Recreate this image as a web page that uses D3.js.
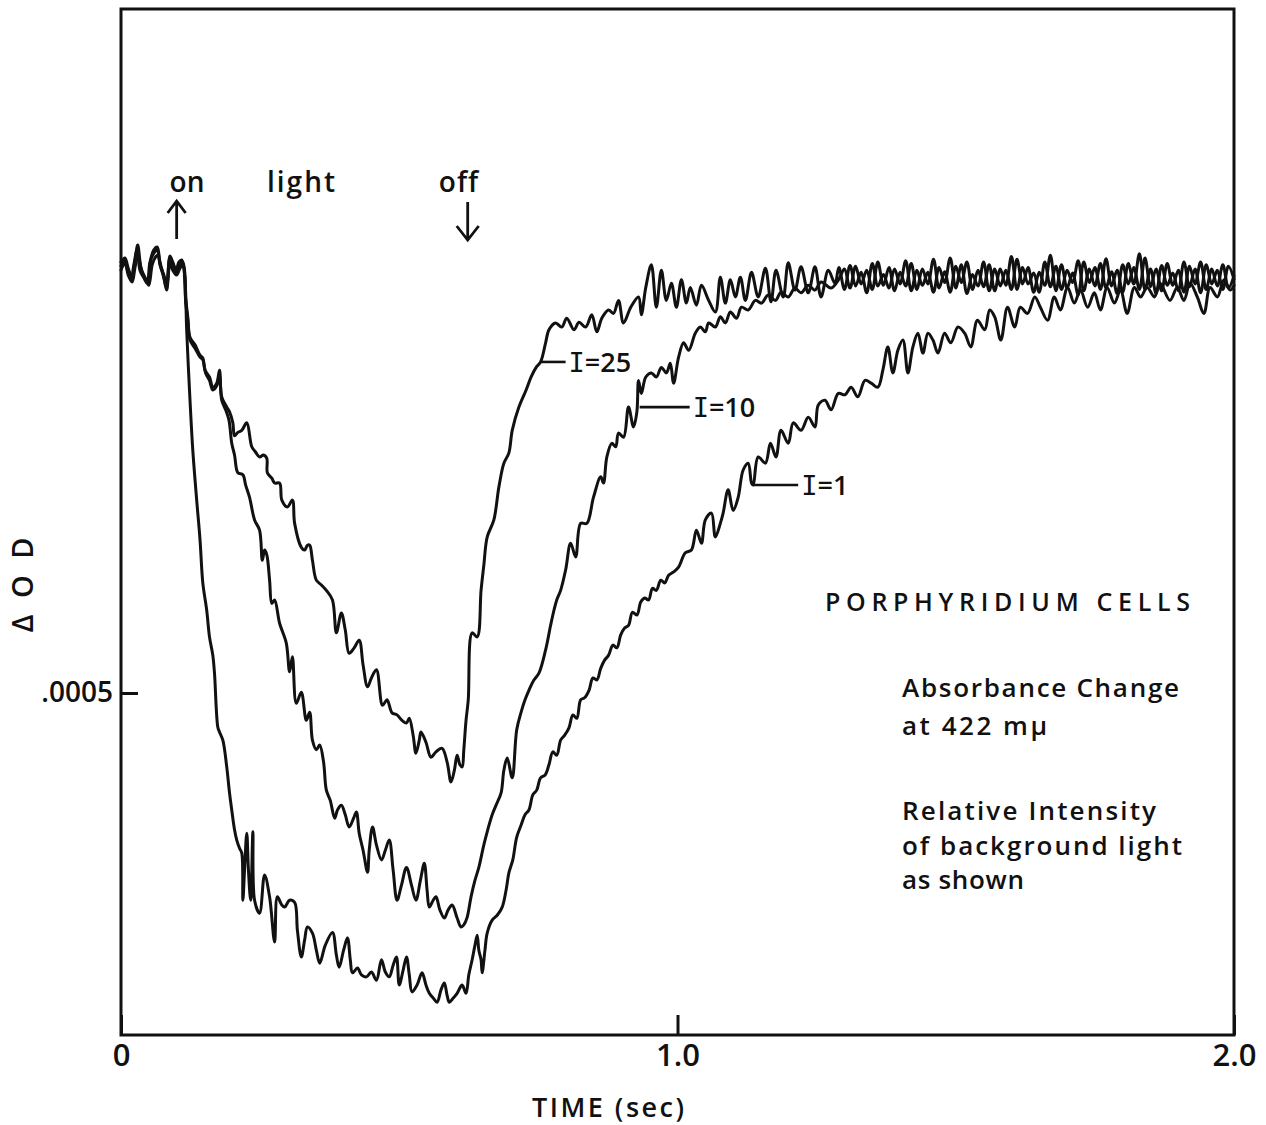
<!DOCTYPE html>
<html><head><meta charset="utf-8">
<script src="https://cdn.jsdelivr.net/npm/d3@7/dist/d3.min.js"></script>
<style>body{margin:0;background:#fff}svg{display:block}text{font-variant-ligatures:none}</style>
</head><body>
<svg id="chart" width="1266" height="1125"></svg>
<script>
// ---------- data ----------
const timeDomain = [0, 2.0];            // seconds
const odDomain = [0, 0.0015];           // ΔOD
const xTicks = [0, 1.0, 2.0];
const xTickLabels = ["0", "1.0", "2.0"];
const yTicks = [0.0005];
const yTickLabels = [".0005"];
const seriesNames = ["I=25", "I=10", "I=1"];
const lightOnTime = 0.10, lightOffTime = 0.623;
// label anchor points on each trace [time, ΔOD×1e-4]
const labelAnchors = [[0.754, 9.84], [0.932, 9.18], [1.136, 8.04]];
const infoTitle = "PORPHYRIDIUM  CELLS";
const infoLines1 = ["Absorbance Change", "at 422 mμ"];
const infoLines2 = ["Relative Intensity", "of background light", "as shown"];

// traces: [time (s), ΔOD × 1e-4]
const traceI25 = [[0,11.30],[0.007,11.36],[0.013,11.21],[0.020,11.07],[0.025,11.30],[0.030,11.55],[0.036,11.21],[0.041,11.11],[0.048,11.02],[0.054,11.36],[0.059,11.48],[0.065,11.52],[0.070,11.30],[0.075,11.15],[0.082,10.93],[0.088,11.39],[0.093,11.30],[0.099,11.18],[0.104,11.30],[0.109,11.33],[0.113,11.21],[0.116,10.79],[0.120,10.50],[0.124,10.20],[0.133,10.09],[0.142,9.94],[0.147,9.90],[0.151,9.72],[0.159,9.62],[0.165,9.47],[0.172,9.53],[0.177,9.72],[0.181,9.33],[0.190,9.18],[0.195,9.11],[0.201,8.95],[0.204,8.76],[0.210,8.81],[0.217,8.84],[0.226,8.95],[0.235,8.60],[0.242,8.52],[0.249,8.45],[0.256,8.48],[0.262,8.43],[0.263,8.22],[0.271,8.14],[0.276,8.07],[0.285,8.07],[0.289,7.82],[0.299,7.72],[0.308,7.82],[0.312,7.48],[0.324,7.13],[0.330,7.09],[0.335,7.16],[0.339,7.16],[0.344,6.94],[0.351,6.65],[0.360,6.58],[0.369,6.50],[0.380,6.36],[0.387,5.88],[0.396,6.17],[0.403,5.92],[0.410,5.58],[0.419,5.66],[0.428,5.77],[0.435,5.41],[0.443,5.09],[0.450,5.22],[0.459,5.34],[0.470,4.82],[0.478,4.90],[0.487,4.71],[0.496,4.68],[0.505,4.60],[0.513,4.56],[0.518,4.63],[0.525,4.38],[0.530,4.12],[0.536,4.31],[0.539,4.43],[0.548,4.28],[0.557,4.06],[0.566,4.14],[0.577,4.19],[0.586,3.99],[0.593,3.70],[0.599,3.87],[0.604,4.09],[0.609,3.95],[0.613,3.92],[0.616,4.17],[0.620,4.60],[0.624,4.90],[0.631,5.88],[0.640,5.82],[0.647,6.50],[0.652,6.87],[0.658,7.28],[0.670,7.53],[0.679,8.01],[0.688,8.36],[0.697,8.51],[0.703,8.84],[0.715,9.18],[0.728,9.43],[0.737,9.62],[0.746,9.76],[0.754,9.84],[0.763,10.12],[0.769,10.31],[0.781,10.41],[0.792,10.35],[0.801,10.48],[0.814,10.31],[0.823,10.42],[0.835,10.35],[0.846,10.53],[0.855,10.28],[0.864,10.48],[0.876,10.60],[0.885,10.55],[0.894,10.74],[0.903,10.41],[0.916,10.64],[0.930,10.79],[0.935,10.53],[0.943,10.93],[0.953,11.26],[0.962,10.64],[0.971,11.18],[0.980,10.74],[0.989,10.99],[0.998,10.64],[1.007,11.04],[1.016,10.70],[1.023,10.93],[1.034,10.67],[1.043,10.96],[1.056,10.74],[1.068,10.57],[1.077,11.08],[1.086,10.70],[1.095,11.04],[1.104,10.79],[1.113,11.08],[1.122,10.74],[1.133,11.15],[1.145,10.79],[1.158,11.21],[1.168,10.72],[1.177,11.18],[1.190,10.79],[1.199,11.29],[1.211,10.89],[1.222,11.23],[1.235,10.85],[1.247,11.23],[1.258,10.79],[1.271,11.18],[1.283,10.99],
[1.29,11.22],[1.30,10.90],[1.31,11.25],[1.32,10.95],[1.33,11.15],[1.34,10.85],[1.35,11.28],[1.36,10.95],[1.37,11.12],[1.38,10.92],[1.39,11.20],[1.40,10.98],[1.41,11.32],[1.42,10.88],[1.43,11.18],[1.44,10.96],[1.45,11.15],[1.46,10.86],[1.47,11.22],[1.48,11.00],[1.49,11.36],[1.50,10.92],[1.51,11.26],[1.52,10.84],[1.53,11.12],[1.54,10.95],[1.55,11.30],[1.56,10.88],[1.57,11.20],[1.58,10.95],[1.59,11.18],[1.60,10.90],[1.61,11.34],[1.62,10.98],[1.63,11.22],[1.64,10.86],[1.65,11.15],[1.66,10.96],[1.67,11.40],[1.68,10.88],[1.69,11.26],[1.70,10.92],[1.71,11.14],[1.72,10.82],[1.73,11.30],[1.74,11.00],[1.75,11.22],[1.76,10.90],[1.77,11.35],[1.78,10.95],[1.79,11.18],[1.80,10.86],[1.81,11.28],[1.82,10.98],[1.83,11.42],[1.84,10.90],[1.85,11.20],[1.86,10.84],[1.87,11.25],[1.88,10.96],[1.89,11.14],[1.90,10.88],[1.91,11.30],[1.92,10.94],[1.93,11.20],[1.94,10.85],[1.95,11.26],[1.96,10.98],[1.97,11.18],[1.98,10.90],[1.99,11.24],[2.00,11.05]];

const traceI10 = [[0,11.24],[0.005,11.33],[0.013,11.15],[0.018,11.04],[0.023,11.26],[0.029,11.48],[0.034,11.18],[0.041,11.07],[0.047,10.99],[0.052,11.30],[0.057,11.40],[0.065,11.48],[0.070,11.26],[0.077,11.11],[0.082,10.96],[0.088,11.36],[0.095,11.24],[0.100,11.15],[0.106,11.26],[0.111,11.30],[0.115,11.11],[0.116,10.74],[0.120,10.45],[0.124,10.16],[0.133,10.04],[0.142,9.91],[0.147,9.87],[0.152,9.68],[0.159,9.57],[0.165,9.43],[0.172,9.49],[0.177,9.65],[0.181,9.28],[0.188,9.14],[0.194,8.99],[0.199,8.65],[0.204,8.48],[0.210,8.22],[0.219,8.19],[0.224,8.04],[0.231,7.86],[0.240,7.53],[0.249,7.38],[0.254,6.94],[0.258,7.09],[0.262,7.02],[0.267,6.65],[0.271,6.31],[0.276,6.36],[0.285,6.02],[0.297,5.73],[0.303,5.31],[0.308,5.53],[0.315,4.85],[0.324,5.01],[0.333,4.60],[0.339,4.72],[0.344,4.31],[0.351,4.17],[0.357,4.24],[0.364,3.99],[0.369,3.58],[0.376,3.43],[0.384,3.17],[0.389,3.29],[0.396,3.36],[0.403,3.22],[0.410,3.04],[0.418,3.17],[0.423,3.26],[0.428,2.95],[0.435,2.70],[0.443,2.38],[0.446,2.70],[0.452,3.04],[0.459,2.78],[0.468,2.56],[0.475,2.70],[0.482,2.85],[0.489,2.41],[0.496,1.97],[0.504,2.19],[0.513,2.45],[0.522,2.19],[0.530,1.97],[0.538,2.26],[0.545,2.51],[0.550,2.12],[0.554,1.87],[0.561,1.97],[0.566,2.02],[0.573,1.83],[0.581,1.71],[0.588,1.83],[0.595,1.90],[0.604,1.71],[0.611,1.58],[0.616,1.61],[0.622,1.72],[0.629,2.02],[0.636,2.26],[0.643,2.45],[0.652,2.78],[0.659,3.00],[0.667,3.22],[0.674,3.36],[0.683,3.54],[0.688,3.87],[0.694,4.05],[0.703,3.76],[0.711,4.46],[0.719,4.72],[0.726,4.90],[0.733,5.04],[0.742,5.19],[0.751,5.29],[0.763,5.63],[0.772,5.99],[0.778,6.21],[0.783,6.36],[0.790,6.50],[0.799,6.80],[0.808,7.19],[0.817,6.99],[0.826,7.48],[0.837,7.48],[0.849,7.86],[0.862,8.16],[0.867,8.07],[0.873,8.45],[0.882,8.65],[0.889,8.60],[0.894,8.80],[0.903,8.74],[0.912,9.18],[0.921,8.89],[0.927,9.11],[0.930,9.57],[0.935,9.38],[0.943,9.62],[0.953,9.68],[0.962,9.62],[0.971,9.76],[0.980,9.68],[0.987,9.82],[0.993,9.53],[1.002,9.91],[1.011,10.12],[1.020,10.01],[1.032,10.26],[1.041,10.35],[1.050,10.28],[1.056,10.41],[1.068,10.35],[1.077,10.50],[1.086,10.41],[1.095,10.57],[1.106,10.48],[1.115,10.64],[1.127,10.60],[1.140,10.74],[1.151,10.70],[1.163,10.82],[1.176,10.74],[1.186,10.86],[1.199,10.79],[1.211,10.92],[1.222,10.85],[1.235,10.96],[1.247,10.89],[1.258,11.01],[1.276,10.92],
[1.29,11.05],[1.30,11.20],[1.31,10.92],[1.32,11.24],[1.33,10.98],[1.34,11.18],[1.35,10.90],[1.36,11.30],[1.37,10.96],[1.38,11.22],[1.39,10.88],[1.40,11.15],[1.41,10.95],[1.42,11.28],[1.43,10.90],[1.44,11.20],[1.45,10.98],[1.46,11.34],[1.47,10.92],[1.48,11.16],[1.49,10.86],[1.50,11.24],[1.51,11.00],[1.52,11.30],[1.53,10.90],[1.54,11.18],[1.55,10.94],[1.56,11.26],[1.57,10.88],[1.58,11.20],[1.59,10.96],[1.60,11.38],[1.61,10.90],[1.62,11.22],[1.63,10.98],[1.64,11.14],[1.65,10.86],[1.66,11.30],[1.67,10.94],[1.68,11.24],[1.69,10.90],[1.70,11.18],[1.71,11.00],[1.72,11.32],[1.73,10.88],[1.74,11.20],[1.75,10.95],[1.76,11.28],[1.77,10.92],[1.78,11.16],[1.79,10.84],[1.80,11.26],[1.81,10.98],[1.82,11.22],[1.83,10.90],[1.84,11.36],[1.85,10.94],[1.86,11.20],[1.87,10.88],[1.88,11.28],[1.89,10.96],[1.90,11.18],[1.91,10.86],[1.92,11.24],[1.93,10.98],[1.94,11.30],[1.95,10.90],[1.96,11.20],[1.97,10.95],[1.98,11.26],[1.99,10.92],[2.00,11.10]];

const traceI1 = [[0,11.18],[0.007,11.29],[0.013,11.11],[0.020,11.01],[0.025,11.21],[0.030,11.40],[0.038,11.15],[0.045,11.04],[0.050,10.96],[0.056,11.26],[0.061,11.36],[0.066,11.40],[0.072,11.21],[0.077,11.07],[0.082,10.89],[0.088,11.30],[0.093,11.18],[0.100,11.11],[0.106,11.21],[0.111,11.26],[0.115,11.04],[0.118,10.31],[0.124,9.28],[0.129,8.55],[0.136,7.82],[0.142,7.24],[0.147,6.61],[0.154,6.21],[0.159,5.82],[0.165,5.55],[0.168,5.29],[0.174,4.50],[0.177,4.43],[0.183,4.31],[0.190,3.92],[0.195,3.54],[0.199,3.29],[0.204,3.00],[0.208,2.85],[0.213,2.73],[0.217,2.66],[0.219,1.97],[0.222,2.41],[0.226,2.95],[0.229,2.41],[0.233,1.97],[0.237,2.97],[0.240,1.97],[0.249,1.78],[0.258,2.34],[0.267,2.02],[0.276,1.36],[0.281,2.02],[0.289,1.90],[0.294,1.87],[0.303,1.97],[0.312,1.94],[0.317,1.53],[0.324,1.14],[0.330,1.39],[0.335,1.58],[0.344,1.49],[0.351,1.24],[0.357,1.05],[0.367,1.31],[0.380,1.50],[0.387,1.17],[0.392,0.99],[0.400,1.24],[0.407,1.42],[0.412,1.10],[0.416,0.91],[0.425,0.98],[0.432,0.88],[0.441,0.85],[0.450,0.92],[0.459,0.80],[0.468,1.10],[0.475,0.92],[0.482,0.85],[0.489,1.02],[0.495,1.14],[0.500,0.73],[0.507,0.95],[0.513,1.14],[0.518,0.88],[0.523,0.63],[0.532,0.73],[0.541,0.91],[0.548,0.73],[0.554,0.61],[0.561,0.54],[0.568,0.48],[0.575,0.66],[0.581,0.76],[0.586,0.58],[0.590,0.48],[0.597,0.54],[0.604,0.61],[0.613,0.73],[0.620,0.61],[0.625,0.88],[0.631,1.10],[0.636,1.31],[0.640,1.46],[0.643,1.24],[0.647,1.10],[0.649,0.91],[0.654,1.24],[0.658,1.49],[0.667,1.68],[0.676,1.75],[0.685,1.87],[0.692,2.12],[0.697,2.37],[0.704,2.56],[0.711,2.89],[0.719,3.07],[0.726,3.22],[0.733,3.29],[0.740,3.51],[0.747,3.58],[0.754,3.76],[0.762,3.80],[0.769,3.95],[0.776,4.14],[0.783,4.09],[0.790,4.31],[0.797,4.38],[0.805,4.49],[0.812,4.68],[0.819,4.63],[0.826,4.90],[0.833,4.93],[0.841,5.04],[0.848,5.22],[0.855,5.19],[0.862,5.36],[0.869,5.48],[0.876,5.55],[0.884,5.70],[0.891,5.66],[0.898,5.85],[0.905,5.95],[0.912,5.99],[0.919,6.18],[0.927,6.14],[0.934,6.33],[0.941,6.39],[0.948,6.36],[0.955,6.53],[0.962,6.50],[0.970,6.65],[0.977,6.61],[0.984,6.72],[0.993,6.77],[1.002,6.84],[1.014,7.05],[1.025,7.09],[1.034,7.38],[1.043,7.19],[1.050,7.53],[1.061,7.63],[1.068,7.28],[1.077,7.48],[1.082,7.63],[1.091,7.97],[1.100,7.67],[1.109,7.86],[1.118,8.26],[1.127,8.36],[1.133,8.07],[1.136,8.04],[1.145,8.45],[1.158,8.36],[1.167,8.65],[1.177,8.45],[1.186,8.84],[1.199,8.65],[1.208,8.95],[1.222,8.84],[1.235,9.03],[1.247,8.89],[1.253,9.21],[1.265,9.28],[1.276,9.14],[1.289,9.38],[1.301,9.36],[1.312,9.47],[1.324,9.33],[1.337,9.57],[1.348,9.53],[1.360,9.47],[1.369,9.72],[1.378,10.06],[1.387,9.68],[1.396,10.01],[1.405,10.16],[1.414,9.68],[1.423,10.06],[1.432,10.26],[1.441,9.97],[1.450,10.26],[1.459,10.16],[1.468,9.97],[1.480,10.26],[1.491,10.12],[1.504,10.35],[1.516,10.26],[1.527,10.06],[1.539,10.45],[1.552,10.31],[1.561,10.60],[1.570,10.50],[1.581,10.16],[1.593,10.64],[1.606,10.35],[1.616,10.64],[1.629,10.55],[1.642,10.79],[1.652,10.64],[1.665,10.45],[1.677,10.79],[1.688,10.60],[1.701,10.93],[1.713,10.70],[1.724,10.89],[1.737,10.64],[1.749,10.85],[1.760,10.60],[1.772,10.93],[1.785,10.70],[1.796,10.89],[1.808,10.55],[1.821,10.93],[1.832,10.79],[1.844,10.93],[1.857,10.79],[1.867,10.99],[1.885,10.74],[1.898,10.93],[1.910,10.74],[1.921,10.99],[1.934,10.79],[1.946,10.55],[1.957,10.93],[1.970,10.79],[1.982,11.04],[1.993,10.89],[2.000,10.96]];

const traces = [traceI25, traceI10, traceI1];
const E4 = 1e-4;

// ---------- drawing ----------
const svg = d3.select("#chart");
const x = d3.scaleLinear().domain(timeDomain).range([121, 1234]);
const y = d3.scaleLinear().domain(odDomain).range([1035, 9]);
const ink = "#111";
const font = "'Open Sans', 'DejaVu Sans', sans-serif";
const fw = 600;

// frame
svg.append("rect")
  .attr("x", x(timeDomain[0])).attr("y", y(odDomain[1]))
  .attr("width", x(timeDomain[1]) - x(timeDomain[0]))
  .attr("height", y(odDomain[0]) - y(odDomain[1]))
  .attr("fill", "none").attr("stroke", ink).attr("stroke-width", 3);

// x axis
const xAxis = d3.axisBottom(x).tickValues(xTicks)
  .tickFormat((d, i) => xTickLabels[i]).tickSizeInner(-20).tickSizeOuter(0).tickPadding(9);
const gx = svg.append("g").attr("transform", `translate(0,${y(odDomain[0])})`).call(xAxis);
gx.select(".domain").remove();
gx.selectAll(".tick line").attr("stroke", ink).attr("stroke-width", 3);
gx.selectAll(".tick text").attr("fill", ink).style("font-family", font)
  .style("font-weight", fw).style("font-size", "31px");

// y axis
const yAxis = d3.axisLeft(y).tickValues(yTicks)
  .tickFormat((d, i) => yTickLabels[i]).tickSizeInner(-17).tickSizeOuter(0).tickPadding(8);
const gy = svg.append("g").attr("transform", `translate(${x(timeDomain[0])},0)`).call(yAxis);
gy.select(".domain").remove();
gy.selectAll(".tick line").attr("stroke", ink).attr("stroke-width", 3);
gy.selectAll(".tick text").attr("fill", ink).style("font-family", font)
  .style("font-weight", fw).style("font-size", "28px");

// axis titles
svg.append("text").attr("x", 608).attr("y", 1117).attr("text-anchor", "middle")
  .style("font-family", font).style("font-weight", fw).style("font-size", "27px").attr("fill", ink)
  .attr("textLength", 152).attr("lengthAdjust", "spacing").text("TIME (sec)");
svg.append("text").attr("transform", "translate(33,585) rotate(-90)")
  .attr("text-anchor", "middle").style("font-family", font).style("font-weight", fw).style("font-size", "29px")
  .attr("fill", ink).attr("textLength", 95).attr("lengthAdjust", "spacing").text("Δ O D");

// traces
const line = d3.line()
  .x(d => x(d[0])).y(d => y(d[1] * E4))
  .curve(d3.curveCatmullRom.alpha(0.5));
svg.append("g").selectAll("path").data(traces).join("path")
  .attr("d", line).attr("fill", "none").attr("stroke", ink)
  .attr("stroke-width", 3).attr("stroke-linejoin", "round").attr("stroke-linecap", "round");

// series labels with leader lines
const leaderLens = [25, 50, 45];
labelAnchors.forEach((a, i) => {
  const px = x(a[0]), py = y(a[1] * E4);
  svg.append("line").attr("x1", px).attr("y1", py).attr("x2", px + leaderLens[i]).attr("y2", py)
    .attr("stroke", ink).attr("stroke-width", 2.6);
  const parts = seriesNames[i].split("=");
  const t = svg.append("text").attr("x", px + leaderLens[i] + 3).attr("y", py + 10)
    .style("font-family", font).style("font-weight", fw).style("font-size", "27px").attr("fill", ink);
  t.append("tspan").style("font-family", "'DejaVu Sans Mono', monospace").style("font-weight", 400).text(parts[0]);
  t.append("tspan").text("=" + parts[1]);
});

// light on/off annotation
const annStyle = s => s.style("font-family", font).style("font-weight", fw)
  .style("font-size", "28px").attr("fill", ink);
annStyle(svg.append("text").attr("x", 187).attr("y", 192).attr("text-anchor", "middle").text("on"));
annStyle(svg.append("text").attr("x", 267).attr("y", 192).style("letter-spacing", "2px").text("light"));
annStyle(svg.append("text").attr("x", 459).attr("y", 192).attr("text-anchor", "middle").style("letter-spacing", "1px").text("off"));
const xOn = x(lightOnTime), xOff = x(lightOffTime);
svg.append("path").attr("d", `M${xOn},239 L${xOn},201 M${xOn - 9},213 L${xOn},201 L${xOn + 9},213`)
  .attr("fill", "none").attr("stroke", ink).attr("stroke-width", 2.8);
svg.append("path").attr("d", `M${xOff},202 L${xOff},240 M${xOff - 11},226 L${xOff},240 L${xOff + 11},226`)
  .attr("fill", "none").attr("stroke", ink).attr("stroke-width", 2.8);

// info block
const info = (txt, xx, yy, w, fs) => svg.append("text").attr("x", xx).attr("y", yy)
  .style("font-family", font).style("font-weight", fw).style("font-size", fs + "px").attr("fill", ink)
  .attr("textLength", w).attr("lengthAdjust", "spacing").text(txt);
info(infoTitle, 825, 611, 365, 25);
info(infoLines1[0], 902, 697, 277, 26);
info(infoLines1[1], 902, 735, 145, 26);
info(infoLines2[0], 902, 820, 254, 26);
info(infoLines2[1], 902, 855, 280, 26);
info(infoLines2[2], 902, 889, 122, 26);
</script>
</body></html>
